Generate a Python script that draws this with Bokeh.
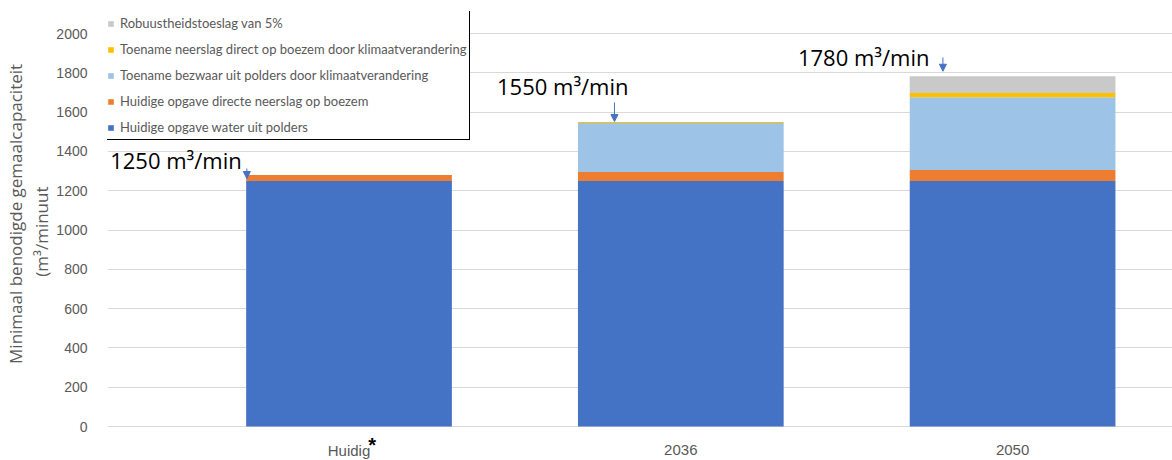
from bokeh.plotting import figure
from bokeh.models import (Range1d, FixedTicker, Legend, LegendItem, Label, Arrow,
                          NormalHead, ColumnDataSource)
from bokeh.core.properties import value
from bokeh.embed import file_html
from bokeh.resources import INLINE

# ---- data ----
categories = ["Huidig", "2036", "2050"]
huidig_polders = [1250, 1250, 1250]
huidig_boezem = [30, 45, 55]
toename_polders = [0, 250, 370]
toename_boezem = [0, 5, 22]
robuust = [0, 0, 85]
total_labels = ["1250 m³/min", "1550 m³/min", "1780 m³/min"]
y_ticks = [0, 200, 400, 600, 800, 1000, 1200, 1400, 1600, 1800, 2000]

series_names = [
    "Huidige opgave water uit polders",
    "Huidige opgave directe neerslag op boezem",
    "Toename bezwaar uit polders door klimaatverandering",
    "Toename neerslag direct op boezem door klimaatverandering",
    "Robuustheidstoeslag van 5%",
]
colors = ["#4472C4", "#ED7D31", "#9DC3E6", "#FFC000", "#C9C9C9"]
keys = ["hp", "hb", "tp", "tb", "rb"]

xs = list(range(len(categories)))
source = ColumnDataSource(dict(x=xs, hp=huidig_polders, hb=huidig_boezem,
                               tp=toename_polders, tb=toename_boezem, rb=robuust))

TICK_FONT = "Liberation Sans"
GREY = "#595959"
NB = "\u00a0"

p = figure(width=1172, height=460, output_backend="svg", toolbar_location=None,
           x_range=Range1d(-0.728, 2.482), y_range=Range1d(-173, 2112),
           min_border_left=100, min_border_right=0, min_border_top=11,
           min_border_bottom=0, outline_line_color=None)

renderers = p.vbar_stack(keys, x="x", width=0.62, color=colors, source=source,
                         line_color=None)

# x axis drawn as text inside the frame (category labels below the zero line)
p.xaxis.visible = False
cat_src = ColumnDataSource(dict(x=xs, y=[-122] * len(xs), t=categories))
p.text(x="x", y="y", text="t", source=cat_src, text_font=value(TICK_FONT),
       text_font_size="15px", text_color=GREY, text_align="center",
       text_baseline="middle")
# asterisk after "Huidig"
p.text(x=[xs[0]], y=[-92], text=["*"], x_offset=23, text_font=value(TICK_FONT),
       text_font_size="20px", text_font_style="bold", text_color="black",
       text_align="center", text_baseline="middle")

p.yaxis.ticker = FixedTicker(ticks=y_ticks)
p.yaxis.major_tick_line_color = None
p.yaxis.minor_tick_line_color = None
p.yaxis.axis_line_color = None
p.yaxis.major_label_standoff = 14
p.yaxis.major_label_text_font = TICK_FONT
p.yaxis.major_label_text_font_size = "14px"
p.yaxis.major_label_text_color = GREY
p.yaxis.axis_label = (NB * 10 + "Minimaal benodigde gemaalcapaciteit\n"
                      + NB * 2 + "(m³/minuut")
p.yaxis.axis_label_text_font = "Open Sans"
p.yaxis.axis_label_text_font_style = "normal"
p.yaxis.axis_label_text_font_size = "17px"
p.yaxis.axis_label_text_line_height = 1.15
p.yaxis.axis_label_text_color = GREY
p.yaxis.axis_label_standoff = 0

p.xgrid.grid_line_color = None
p.ygrid.grid_line_color = "#D9D9D9"
p.ygrid.grid_line_width = 1

# total annotations
ann_pos = [(-0.72, 1354), (1 - 0.554, 1735), (2 - 0.647, 1878)]
for (ax, ay), t in zip(ann_pos, total_labels):
    p.add_layout(Label(x=ax, y=ay, text=t, text_font="Open Sans", text_font_size="22px",
                       text_color="black", text_baseline="middle", text_align="left"))

arrow_pos = [(-0.308, 1313, 1262), (1 - 0.2, 1649, 1552), (2 - 0.21, 1878, 1808)]
for axp, y0, y1 in arrow_pos:
    p.add_layout(Arrow(end=NormalHead(size=7, fill_color="#4472C4", line_color="#4472C4"),
                       x_start=axp, y_start=y0, x_end=axp, y_end=y1,
                       line_color="#4472C4", line_width=1))

# legend
items = [LegendItem(label=n, renderers=[r]) for n, r in zip(series_names, renderers)][::-1]
legend = Legend(items=items, location=(-4, 320), border_line_color="black",
                border_line_width=1, border_line_alpha=1, padding=3, spacing=8,
                label_height=18, glyph_width=7, glyph_height=7, label_standoff=6,
                label_text_font="Lato", label_text_font_size="13px",
                label_text_color=GREY, margin=0, background_fill_color="white",
                background_fill_alpha=1)
p.add_layout(legend, "center")

open("out.html", "w").write(file_html(p, INLINE))
